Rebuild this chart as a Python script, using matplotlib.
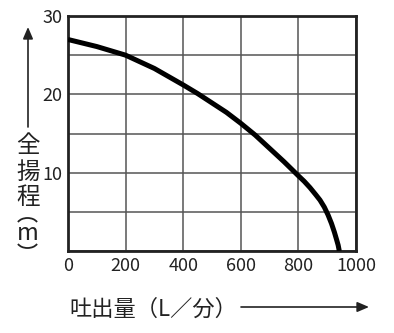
import matplotlib
matplotlib.use('Agg')
import matplotlib.pyplot as plt
from matplotlib.patches import FancyArrowPatch, Arc

plt.rcParams['font.family'] = ['Noto Sans CJK JP', 'DejaVu Sans']

# 吐出量 (L/分) と 全揚程 (m)
flow = [0, 100, 200, 300, 400, 450, 500, 550, 600, 650, 700, 750,
        800, 820, 840, 860, 875, 890, 903, 915, 925, 933, 938, 942]
head = [27.0, 26.1, 25.0, 23.3, 21.2, 20.1, 18.9, 17.7, 16.3, 14.8, 13.1, 11.4,
        9.6, 8.9, 8.1, 7.2, 6.5, 5.6, 4.6, 3.5, 2.4, 1.4, 0.75, 0.0]

x_ticks = [0, 200, 400, 600, 800, 1000]
y_ticks = [0, 5, 10, 15, 20, 25, 30]
y_labels = ['', '', '10', '', '20', '', '30']

W, H = 394, 333
fig = plt.figure(figsize=(W / 100, H / 100), dpi=100)
ax = fig.add_axes([68 / W, 82 / H, 288 / W, 235 / H])

ax.plot(flow, head, color='black', lw=3.6, solid_joinstyle='round',
        solid_capstyle='butt', zorder=3)

ax.set_xlim(0, 1000)
ax.set_ylim(0, 30)
ax.set_xticks(x_ticks)
ax.set_yticks(y_ticks)
ax.set_yticklabels(y_labels)
ax.tick_params(length=0, labelsize=13, pad=4, colors='#222222')
ax.grid(True, color='#555555', lw=1.1)
for sp in ax.spines.values():
    sp.set_linewidth(2.0)
    sp.set_color('#222222')


def fpt(x, y):
    # ピクセル座標 -> figure座標
    return x / W, 1 - y / H


# 縦軸ラベル (縦書き)
for c, y in zip(['全', '揚', '程'], [146, 172, 197]):
    fig.text(*fpt(28, y), c, fontsize=17, ha='center', va='center', color='#222222')
fig.text(*fpt(27.5, 240), 'm', fontsize=17, ha='center', va='baseline', color='#222222')
# 縦書きの括弧
fig.add_artist(Arc(fpt(27.5, 225), 21 / W, 14 / H, theta1=20, theta2=160,
                   transform=fig.transFigure, lw=1.3, color='#222222'))
fig.add_artist(Arc(fpt(27.5, 241), 21 / W, 14 / H, theta1=200, theta2=340,
                   transform=fig.transFigure, lw=1.3, color='#222222'))

arrow_kw = dict(transform=fig.transFigure, arrowstyle='-|>,head_length=7,head_width=3',
                lw=1.2, color='#222222', mutation_scale=1, shrinkA=0, shrinkB=0)
fig.add_artist(FancyArrowPatch(fpt(28, 127), fpt(28, 27), **arrow_kw))

# 横軸ラベル
fig.text(*fpt(69, 309), '吐出量（L／分）', fontsize=16, ha='left', va='center',
         color='#222222')
fig.add_artist(FancyArrowPatch(fpt(241, 307), fpt(369, 307), **arrow_kw))

fig.savefig('out.png', dpi=100)
